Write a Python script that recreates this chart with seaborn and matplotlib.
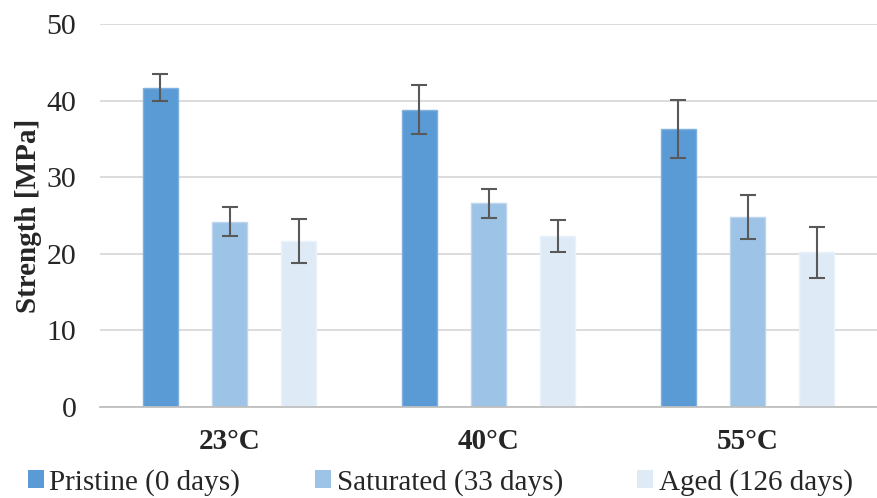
import matplotlib
matplotlib.use("Agg")
import matplotlib.pyplot as plt
import seaborn as sns
import pandas as pd
import numpy as np
from matplotlib.patches import Patch

temps = ["23°C", "40°C", "55°C"]
conditions = ["Pristine (0 days)", "Saturated (33 days)", "Aged (126 days)"]
pristine = [41.7, 38.8, 36.3]
saturated = [24.2, 26.6, 24.8]
aged = [21.7, 22.3, 20.2]
pristine_err = [1.75, 3.2, 3.75]
saturated_err = [1.9, 1.9, 2.9]
aged_err = [2.85, 2.1, 3.35]
colors = ["#5b9bd5", "#9dc3e6", "#deebf7"]
edges = ["#7fb0e0", "#bcd6ef", "#e9f1fa"]

values = [pristine, saturated, aged]
errs = [pristine_err, saturated_err, aged_err]
rows = []
for c, vals in zip(conditions, values):
    for t, v in zip(temps, vals):
        rows.append({"Temperature": t, "Condition": c, "Strength": v})
df = pd.DataFrame(rows)

sns.set_style("white")
plt.rcParams["font.family"] = ["Liberation Serif", "DejaVu Serif"]

fig = plt.figure(figsize=(8.77, 4.98), dpi=100)
ax = fig.add_axes([100/877, 91/498, 777/877, 383/498])

sns.barplot(data=df, x="Temperature", y="Strength", hue="Condition",
            order=temps, hue_order=conditions, palette=colors, saturation=1,
            width=0.8, gap=0.49, errorbar=None, ax=ax, legend=False,
            zorder=2)

for cont, e, ec in zip(ax.containers, errs, edges):
    xs = [p.get_x() + p.get_width() / 2 for p in cont]
    ys = [p.get_height() for p in cont]
    for p in cont:
        p.set_edgecolor(ec)
        p.set_linewidth(1.0)
    ax.errorbar(xs, ys, yerr=e, fmt="none", ecolor="#595959",
                elinewidth=1.5, capsize=6, capthick=1.5, zorder=3)

ax.set_ylim(0, 50)
ax.set_xlim(-0.5, 2.5)
ax.set_yticks([0, 10, 20, 30, 40, 50])
ax.yaxis.grid(True, color="#d9d9d9", linewidth=1.3, zorder=0)
ax.set_axisbelow(True)
for s in ["top", "right", "left"]:
    ax.spines[s].set_visible(False)
ax.spines["bottom"].set_color("#bfbfbf")
ax.spines["bottom"].set_linewidth(1.3)
ax.spines["bottom"].set_zorder(4)

ax.tick_params(axis="y", length=0, labelsize=21.5, pad=17)
ax.tick_params(axis="x", which="major", length=0, labelsize=21, pad=15)
ax.set_xticks([-0.5, 0.5, 1.5, 2.5], minor=True)
ax.tick_params(axis="x", which="minor", length=7, width=1.3, color="#bfbfbf")
for lab in ax.get_xticklabels():
    lab.set_fontweight("bold")

ax.set_xlabel("")
ax.set_ylabel("Strength [MPa]", fontsize=21, fontweight="bold", labelpad=3)

handles = [Patch(facecolor=c, edgecolor="none") for c in colors]
fig.legend(handles, conditions, loc="center", bbox_to_anchor=(0.502, 0.032),
           ncol=3, frameon=False, fontsize=21, handlelength=0.55, handleheight=0.55,
           handletextpad=0.2, columnspacing=2.55, borderpad=0, borderaxespad=0)

fig.savefig("out.png", dpi=100)
